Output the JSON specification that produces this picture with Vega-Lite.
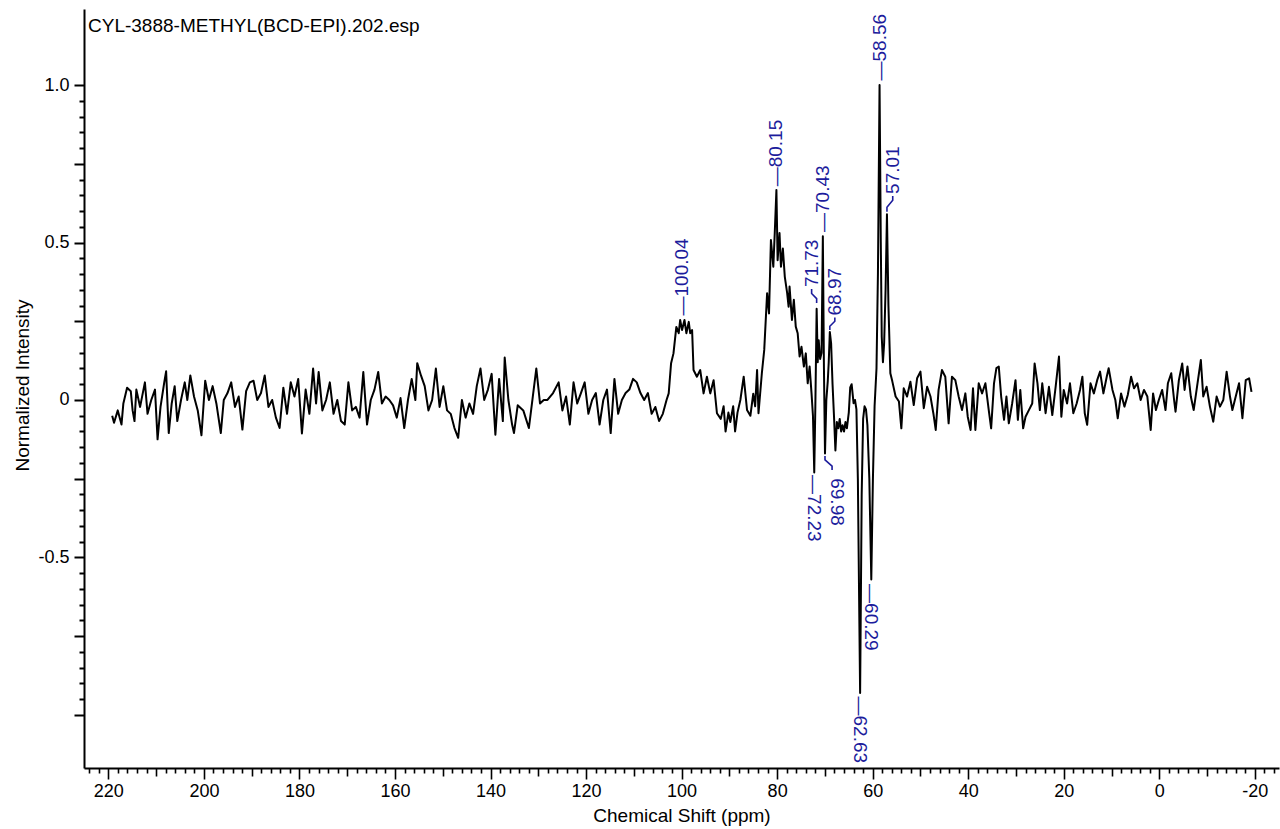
{
 "$schema": "https://vega.github.io/schema/vega-lite/v6.json",
 "width": 1195,
 "height": 759,
 "autosize": {"type": "none"},
 "padding": {"left": 84, "top": 9, "right": 1, "bottom": 61},
 "background": "white",
 "config": {"view": {"stroke": null}, "font": "Liberation Sans"},
 "title": {"text": "CYL-3888-METHYL(BCD-EPI).202.esp", "anchor": "start", "frame": "group", "orient": "top", "offset": -36, "baseline": "middle", "dx": 4, "fontSize": 19, "fontWeight": "normal", "color": "black", "font": "Liberation Sans"},
 "datasets": {
  "spec": [
   {"ppm":219.2,"v":-0.05},{"ppm":218.81,"v":-0.072},{"ppm":218.03,"v":-0.033},{"ppm":217.25,"v":-0.078},{"ppm":216.86,"v":-0.011},{"ppm":216.08,"v":0.039},{"ppm":215.31,"v":0.028},{"ppm":214.92,"v":-0.033},{"ppm":214.53,"v":-0.067},{"ppm":214.14,"v":0.033},{"ppm":213.36,"v":-0.022},{"ppm":212.35,"v":0.056},{"ppm":211.8,"v":-0.044},{"ppm":211.02,"v":0.0},{"ppm":210.24,"v":0.033},{"ppm":209.7,"v":-0.125},{"ppm":209.08,"v":-0.022},{"ppm":208.3,"v":0.056},{"ppm":207.91,"v":0.091},{"ppm":207.36,"v":-0.105},{"ppm":206.74,"v":-0.011},{"ppm":206.12,"v":0.044},{"ppm":205.57,"v":-0.067},{"ppm":204.79,"v":0.0},{"ppm":204.01,"v":0.056},{"ppm":203.47,"v":0.0},{"ppm":202.84,"v":0.078},{"ppm":202.07,"v":0.011},{"ppm":201.29,"v":-0.033},{"ppm":200.51,"v":-0.112},{"ppm":199.73,"v":0.061},{"ppm":198.95,"v":0.0},{"ppm":198.17,"v":0.044},{"ppm":197.39,"v":-0.011},{"ppm":196.46,"v":-0.105},{"ppm":195.84,"v":0.0},{"ppm":195.06,"v":0.022},{"ppm":194.28,"v":0.056},{"ppm":193.5,"v":-0.022},{"ppm":192.72,"v":0.011},{"ppm":191.94,"v":-0.094},{"ppm":191.16,"v":0.028},{"ppm":190.38,"v":0.056},{"ppm":189.61,"v":0.061},{"ppm":188.83,"v":0.0},{"ppm":188.05,"v":0.022},{"ppm":187.27,"v":0.078},{"ppm":186.49,"v":-0.022},{"ppm":185.71,"v":0.0},{"ppm":184.93,"v":-0.056},{"ppm":184.15,"v":-0.089},{"ppm":183.37,"v":0.039},{"ppm":182.6,"v":-0.044},{"ppm":181.82,"v":0.056},{"ppm":181.04,"v":0.011},{"ppm":180.26,"v":0.067},{"ppm":179.48,"v":-0.106},{"ppm":178.7,"v":0.033},{"ppm":177.92,"v":-0.044},{"ppm":177.14,"v":0.1},{"ppm":176.52,"v":-0.011},{"ppm":175.98,"v":0.089},{"ppm":175.2,"v":-0.033},{"ppm":174.42,"v":0.0},{"ppm":173.64,"v":0.056},{"ppm":172.86,"v":-0.044},{"ppm":172.08,"v":0.0},{"ppm":171.3,"v":-0.067},{"ppm":170.52,"v":-0.078},{"ppm":169.75,"v":0.056},{"ppm":168.97,"v":-0.033},{"ppm":168.19,"v":-0.022},{"ppm":167.41,"v":-0.056},{"ppm":166.63,"v":0.089},{"ppm":165.85,"v":-0.078},{"ppm":165.07,"v":0.0},{"ppm":164.29,"v":0.033},{"ppm":163.51,"v":0.089},{"ppm":162.74,"v":-0.011},{"ppm":161.96,"v":0.011},{"ppm":161.18,"v":0.0},{"ppm":160.4,"v":-0.017},{"ppm":159.62,"v":-0.056},{"ppm":158.84,"v":0.006},{"ppm":158.06,"v":-0.089},{"ppm":157.28,"v":0.0},{"ppm":156.5,"v":0.067},{"ppm":155.73,"v":0.0},{"ppm":155.34,"v":0.117},{"ppm":154.56,"v":0.078},{"ppm":153.78,"v":0.044},{"ppm":153.0,"v":-0.033},{"ppm":152.22,"v":0.0},{"ppm":151.44,"v":0.1},{"ppm":150.66,"v":-0.022},{"ppm":149.88,"v":0.044},{"ppm":149.1,"v":-0.033},{"ppm":148.33,"v":-0.044},{"ppm":147.55,"v":-0.089},{"ppm":146.77,"v":-0.12},{"ppm":145.99,"v":0.0},{"ppm":145.21,"v":-0.056},{"ppm":144.43,"v":-0.011},{"ppm":143.65,"v":-0.044},{"ppm":142.88,"v":0.044},{"ppm":142.1,"v":0.1},{"ppm":141.32,"v":0.0},{"ppm":140.54,"v":0.033},{"ppm":139.76,"v":0.083},{"ppm":138.98,"v":-0.11},{"ppm":138.2,"v":0.067},{"ppm":137.42,"v":-0.067},{"ppm":137.03,"v":0.135},{"ppm":136.26,"v":0.0},{"ppm":135.48,"v":-0.078},{"ppm":135.09,"v":-0.105},{"ppm":134.31,"v":-0.017},{"ppm":133.14,"v":-0.033},{"ppm":131.97,"v":-0.089},{"ppm":130.41,"v":0.1},{"ppm":129.64,"v":-0.011},{"ppm":128.86,"v":0.0},{"ppm":128.08,"v":0.0},{"ppm":126.91,"v":0.022},{"ppm":125.74,"v":0.056},{"ppm":124.96,"v":-0.033},{"ppm":124.18,"v":0.011},{"ppm":123.4,"v":-0.078},{"ppm":122.62,"v":0.056},{"ppm":121.85,"v":-0.011},{"ppm":121.07,"v":0.022},{"ppm":120.29,"v":0.056},{"ppm":119.51,"v":-0.044},{"ppm":118.73,"v":0.0},{"ppm":117.95,"v":0.022},{"ppm":117.17,"v":-0.078},{"ppm":116.39,"v":0.0},{"ppm":115.62,"v":0.033},{"ppm":114.84,"v":-0.105},{"ppm":114.06,"v":0.067},{"ppm":113.28,"v":-0.044},{"ppm":112.5,"v":0.0},{"ppm":111.72,"v":0.022},{"ppm":110.94,"v":0.033},{"ppm":110.16,"v":0.067},{"ppm":109.39,"v":0.056},{"ppm":108.61,"v":0.022},{"ppm":107.83,"v":0.0},{"ppm":107.05,"v":0.022},{"ppm":106.27,"v":-0.044},{"ppm":105.49,"v":-0.022},{"ppm":104.71,"v":-0.067},{"ppm":103.93,"v":-0.044},{"ppm":103.15,"v":0.0},
   {"ppm":102.7,"v":0.021},{"ppm":102.2,"v":0.117},{"ppm":101.7,"v":0.148},{"ppm":101.1,"v":0.232},{"ppm":100.6,"v":0.212},{"ppm":100.3,"v":0.254},{"ppm":99.9,"v":0.222},{"ppm":99.4,"v":0.254},{"ppm":99.0,"v":0.212},{"ppm":98.5,"v":0.248},{"ppm":98.2,"v":0.212},{"ppm":97.8,"v":0.222},{"ppm":97.5,"v":0.095},{"ppm":96.8,"v":0.074},{"ppm":96.1,"v":0.095},{"ppm":95.4,"v":0.021},{"ppm":94.7,"v":0.074},{"ppm":94.0,"v":0.021},{"ppm":93.3,"v":0.063},{"ppm":92.6,"v":-0.042},{"ppm":91.8,"v":-0.06},{"ppm":91.2,"v":-0.02},{"ppm":90.8,"v":-0.1},{"ppm":90.2,"v":-0.04},{"ppm":89.8,"v":-0.07},{"ppm":89.2,"v":-0.02},{"ppm":88.8,"v":-0.1},{"ppm":88.3,"v":-0.04},{"ppm":87.7,"v":0.0},{"ppm":87.0,"v":0.074},{"ppm":86.3,"v":-0.032},{"ppm":85.6,"v":-0.05},{"ppm":85.0,"v":0.02},{"ppm":84.6,"v":-0.02},{"ppm":84.2,"v":0.095},{"ppm":83.9,"v":-0.042},{"ppm":83.2,"v":0.085},{"ppm":82.7,"v":0.159},{"ppm":82.1,"v":0.339},{"ppm":81.7,"v":0.275},{"ppm":81.3,"v":0.508},{"ppm":80.8,"v":0.423},{"ppm":80.5,"v":0.53},{"ppm":80.15,"v":0.667},{"ppm":79.9,"v":0.444},{"ppm":79.5,"v":0.53},{"ppm":79.2,"v":0.423},{"ppm":78.8,"v":0.481},{"ppm":78.4,"v":0.392},{"ppm":77.9,"v":0.339},{"ppm":77.6,"v":0.296},{"ppm":77.4,"v":0.36},{"ppm":76.9,"v":0.254},{"ppm":76.5,"v":0.318},{"ppm":76.1,"v":0.233},{"ppm":75.7,"v":0.212},{"ppm":75.3,"v":0.138},{"ppm":74.9,"v":0.169},{"ppm":74.4,"v":0.106},{"ppm":74.0,"v":0.148},{"ppm":73.6,"v":0.053},{"ppm":73.2,"v":0.106},{"ppm":72.8,"v":0.021},{"ppm":72.5,"v":-0.05},{"ppm":72.23,"v":-0.23},{"ppm":72.0,"v":-0.02},{"ppm":71.73,"v":0.29},{"ppm":71.5,"v":0.12},{"ppm":71.3,"v":0.19},{"ppm":71.0,"v":0.13},{"ppm":70.7,"v":0.15},{"ppm":70.43,"v":0.52},{"ppm":70.2,"v":0.1},{"ppm":69.98,"v":-0.17},{"ppm":69.7,"v":0.0},{"ppm":69.4,"v":0.06},{"ppm":69.2,"v":0.12},{"ppm":68.97,"v":0.216},{"ppm":68.7,"v":0.18},{"ppm":68.4,"v":0.05},{"ppm":68.1,"v":-0.05},{"ppm":67.8,"v":-0.16},{"ppm":67.5,"v":-0.07},{"ppm":67.2,"v":-0.09},{"ppm":66.9,"v":-0.06},{"ppm":66.6,"v":-0.1},{"ppm":66.3,"v":-0.08},{"ppm":66.0,"v":-0.1},{"ppm":65.7,"v":-0.07},{"ppm":65.4,"v":-0.09},{"ppm":65.0,"v":-0.04},{"ppm":64.7,"v":0.04},{"ppm":64.4,"v":0.05},{"ppm":64.0,"v":-0.01},{"ppm":63.7,"v":0.0},{"ppm":63.4,"v":-0.03},{"ppm":63.1,"v":-0.25},{"ppm":62.63,"v":-0.93},{"ppm":62.3,"v":-0.3},{"ppm":62.0,"v":-0.06},{"ppm":61.7,"v":-0.02},{"ppm":61.4,"v":-0.03},{"ppm":61.1,"v":-0.08},{"ppm":60.7,"v":-0.25},{"ppm":60.29,"v":-0.57},{"ppm":59.95,"v":-0.25},{"ppm":59.6,"v":-0.02},{"ppm":59.2,"v":0.1},{"ppm":58.9,"v":0.4},{"ppm":58.56,"v":1.0},{"ppm":58.3,"v":0.5},{"ppm":58.1,"v":0.2},{"ppm":57.85,"v":0.12},{"ppm":57.6,"v":0.18},{"ppm":57.3,"v":0.35},{"ppm":57.01,"v":0.59},{"ppm":56.7,"v":0.3},{"ppm":56.3,"v":0.085},{"ppm":55.9,"v":0.06},{"ppm":55.2,"v":0.011},{"ppm":54.5,"v":-0.005},{"ppm":54.0,"v":-0.09},
   {"ppm":53.5,"v":0.037},{"ppm":52.8,"v":0.011},{"ppm":52.1,"v":0.058},{"ppm":51.4,"v":-0.016},{"ppm":50.7,"v":0.069},{"ppm":50.0,"v":0.09},{"ppm":49.3,"v":-0.026},{"ppm":48.6,"v":0.042},{"ppm":47.9,"v":0.011},{"ppm":47.3,"v":-0.042},{"ppm":46.8,"v":-0.095},{"ppm":46.2,"v":0.032},{"ppm":45.5,"v":0.095},{"ppm":44.8,"v":0.074},{"ppm":44.1,"v":-0.074},{"ppm":43.4,"v":0.074},{"ppm":42.7,"v":0.063},{"ppm":42.0,"v":0.011},{"ppm":41.3,"v":-0.032},{"ppm":40.6,"v":0.021},{"ppm":40.1,"v":-0.053},{"ppm":39.5,"v":-0.095},{"ppm":39.0,"v":0.037},{"ppm":38.5,"v":-0.095},{"ppm":37.8,"v":0.053},{"ppm":37.1,"v":0.021},{"ppm":36.4,"v":0.053},{"ppm":35.7,"v":-0.032},{"ppm":35.2,"v":-0.09},{"ppm":34.6,"v":0.053},{"ppm":34.1,"v":0.101},{"ppm":33.6,"v":0.106},{"ppm":33.1,"v":0.011},{"ppm":32.5,"v":-0.063},{"ppm":32.0,"v":0.011},{"ppm":31.5,"v":-0.074},{"ppm":30.8,"v":-0.011},{"ppm":30.1,"v":0.063},{"ppm":29.6,"v":-0.063},{"ppm":29.1,"v":0.032},{"ppm":28.5,"v":-0.09},{"ppm":28.0,"v":-0.053},{"ppm":27.3,"v":-0.032},{"ppm":26.6,"v":-0.011},{"ppm":26.1,"v":0.116},{"ppm":25.5,"v":0.053},{"ppm":25.0,"v":-0.032},{"ppm":24.5,"v":0.053},{"ppm":23.8,"v":-0.042},{"ppm":23.1,"v":0.042},{"ppm":22.4,"v":-0.048},{"ppm":21.7,"v":0.042},{"ppm":21.0,"v":0.138},{"ppm":20.5,"v":-0.053},{"ppm":20.0,"v":0.032},{"ppm":19.3,"v":-0.011},{"ppm":18.7,"v":0.053},{"ppm":18.0,"v":-0.042},{"ppm":17.3,"v":-0.011},{"ppm":16.6,"v":0.032},{"ppm":16.1,"v":0.074},{"ppm":15.6,"v":-0.042},{"ppm":15.1,"v":-0.079},{"ppm":14.4,"v":0.053},{"ppm":13.7,"v":0.021},{"ppm":13.0,"v":0.063},{"ppm":12.4,"v":0.09},{"ppm":11.7,"v":0.021},{"ppm":11.0,"v":0.074},{"ppm":10.6,"v":0.101},{"ppm":9.8,"v":0.032},{"ppm":9.2,"v":0.0},{"ppm":8.7,"v":-0.058},{"ppm":8.0,"v":0.021},{"ppm":7.3,"v":-0.021},{"ppm":6.6,"v":0.016},{"ppm":5.9,"v":0.074},{"ppm":5.3,"v":0.037},{"ppm":4.6,"v":0.053},{"ppm":3.9,"v":0.0},{"ppm":3.2,"v":0.032},{"ppm":2.5,"v":0.011},{"ppm":1.8,"v":-0.095},{"ppm":1.3,"v":0.021},{"ppm":0.7,"v":-0.032},{"ppm":0.1,"v":0.0},{"ppm":-0.6,"v":0.032},{"ppm":-1.3,"v":-0.032},{"ppm":-1.8,"v":0.053},{"ppm":-2.5,"v":0.085},{"ppm":-3.1,"v":0.0},{"ppm":-3.4,"v":-0.037},{"ppm":-4.1,"v":0.063},{"ppm":-4.8,"v":0.116},{"ppm":-5.3,"v":0.032},{"ppm":-5.9,"v":0.106},{"ppm":-6.6,"v":0.011},{"ppm":-7.2,"v":-0.032},{"ppm":-8.0,"v":0.053},{"ppm":-8.7,"v":0.127},{"ppm":-9.2,"v":0.011},{"ppm":-9.9,"v":0.042},{"ppm":-10.6,"v":-0.021},{"ppm":-11.3,"v":-0.069},{"ppm":-12.0,"v":0.011},{"ppm":-12.7,"v":-0.021},{"ppm":-13.4,"v":0.0},{"ppm":-14.1,"v":0.09},{"ppm":-14.8,"v":0.011},{"ppm":-15.3,"v":-0.032},{"ppm":-16.0,"v":0.011},{"ppm":-16.7,"v":0.053},{"ppm":-17.4,"v":-0.058},{"ppm":-18.1,"v":0.063},{"ppm":-18.8,"v":0.069},{"ppm":-19.3,"v":0.026}
  ],
  "conn": [
   {"id":"a","o":1,"ppm":71.73,"v":0.308},{"id":"a","o":2,"ppm":71.73,"v":0.322},{"id":"a","o":3,"ppm":72.78,"v":0.338},{"id":"a","o":4,"ppm":72.78,"v":0.352},
   {"id":"b","o":1,"ppm":68.97,"v":0.222},{"id":"b","o":2,"ppm":68.97,"v":0.234},{"id":"b","o":3,"ppm":67.92,"v":0.25},{"id":"b","o":4,"ppm":67.92,"v":0.262},
   {"id":"c","o":1,"ppm":57.01,"v":0.598},{"id":"c","o":2,"ppm":57.01,"v":0.612},{"id":"c","o":3,"ppm":55.8,"v":0.634},{"id":"c","o":4,"ppm":55.8,"v":0.648},
   {"id":"d","o":1,"ppm":69.98,"v":-0.178},{"id":"d","o":2,"ppm":69.98,"v":-0.19},{"id":"d","o":3,"ppm":68.5,"v":-0.21},{"id":"d","o":4,"ppm":68.5,"v":-0.222}
  ],
  "up": [
   {"ppm":100.0,"v":0.262,"label":"—100.04"},
   {"ppm":80.15,"v":0.672,"label":"—80.15"},
   {"ppm":72.78,"v":0.352,"label":"71.73"},
   {"ppm":70.4,"v":0.527,"label":"—70.43"},
   {"ppm":67.92,"v":0.262,"label":"68.97"},
   {"ppm":58.56,"v":1.008,"label":"—58.56"},
   {"ppm":55.8,"v":0.648,"label":"57.01"}
  ],
  "down": [
   {"ppm":72.23,"v":-0.232,"label":"—72.23"},
   {"ppm":67.55,"v":-0.242,"label":"69.98"},
   {"ppm":62.63,"v":-0.935,"label":"—62.63"},
   {"ppm":60.29,"v":-0.578,"label":"—60.29"}
  ]
 },
 "encoding": {
  "x": {"field": "ppm", "type": "quantitative",
   "scale": {"domain": [225.1, -25.06], "nice": false, "zero": false},
   "axis": {"title": "Chemical Shift (ppm)", "titleFont": "Liberation Sans", "titleFontSize": 19, "titleFontWeight": "normal", "titleColor": "black", "titleBaseline": "middle", "titleY": 47,
    "values": [224,222,220,218,216,214,212,210,208,206,204,202,200,198,196,194,192,190,188,186,184,182,180,178,176,174,172,170,168,166,164,162,160,158,156,154,152,150,148,146,144,142,140,138,136,134,132,130,128,126,124,122,120,118,116,114,112,110,108,106,104,102,100,98,96,94,92,90,88,86,84,82,80,78,76,74,72,70,68,66,64,62,60,58,56,54,52,50,48,46,44,42,40,38,36,34,32,30,28,26,24,22,20,18,16,14,12,10,8,6,4,2,0,-2,-4,-6,-8,-10,-12,-14,-16,-18,-20,-22,-24],
    "labelExpr": "datum.value % 20 === 0 ? (datum.value < 0 ? '-' + abs(datum.value) : '' + datum.value) : ''",
    "labelOverlap": false, "labelFlush": false, "labelFont": "Liberation Sans", "labelFontSize": 18, "labelColor": "black", "labelPadding": 3,
    "tickSize": {"condition": [{"test": "datum.value % 20 === 0", "value": 11}, {"test": "datum.value % 10 === 0", "value": 8}], "value": 5},
    "tickColor": "black", "tickWidth": 1.6, "domainColor": "black", "domainWidth": 2, "grid": false}},
  "y": {"field": "v", "type": "quantitative",
   "scale": {"domain": [-1.1683, 1.2413], "nice": false, "zero": false},
   "axis": {"title": "Normalized Intensity", "titleFont": "Liberation Sans", "titleFontSize": 19, "titleFontWeight": "normal", "titleColor": "black", "titleBaseline": "middle", "titleX": -62, "titleY": 376, "titleAngle": -90,
    "values": [-1,-0.95,-0.9,-0.85,-0.8,-0.75,-0.7,-0.65,-0.6,-0.55,-0.5,-0.45,-0.4,-0.35,-0.3,-0.25,-0.2,-0.15,-0.1,-0.05,0,0.05,0.1,0.15,0.2,0.25,0.3,0.35,0.4,0.45,0.5,0.55,0.6,0.65,0.7,0.75,0.8,0.85,0.9,0.95,1],
    "labelExpr": "datum.value === 1 ? '1.0' : datum.value === 0.5 ? '0.5' : datum.value === 0 ? '0' : datum.value === -0.5 ? '-0.5' : ''",
    "labelOverlap": false, "labelFlush": false, "labelFont": "Liberation Sans", "labelFontSize": 18, "labelColor": "black", "labelPadding": 5,
    "tickSize": {"condition": [{"test": "abs(datum.value * 4 - round(datum.value * 4)) < 0.001", "value": 10}], "value": 5},
    "tickColor": "black", "tickWidth": 2, "domainColor": "black", "domainWidth": 2, "grid": false}}
 },
 "layer": [
  {"data": {"name": "spec"}, "mark": {"type": "line", "color": "black", "strokeWidth": 2, "strokeJoin": "round"}},
  {"data": {"name": "conn"}, "mark": {"type": "line", "color": "#1c1c9c", "strokeWidth": 1.6},
   "encoding": {"detail": {"field": "id"}, "order": {"field": "o", "type": "quantitative"}}},
  {"data": {"name": "up"}, "mark": {"type": "text", "angle": 270, "align": "left", "baseline": "middle", "dx": 2, "font": "Liberation Sans", "fontSize": 19, "color": "#1c1c9c"},
   "encoding": {"text": {"field": "label"}}},
  {"data": {"name": "down"}, "mark": {"type": "text", "angle": 90, "align": "left", "baseline": "middle", "dx": 2, "font": "Liberation Sans", "fontSize": 19, "color": "#1c1c9c"},
   "encoding": {"text": {"field": "label"}}}
 ]
}
